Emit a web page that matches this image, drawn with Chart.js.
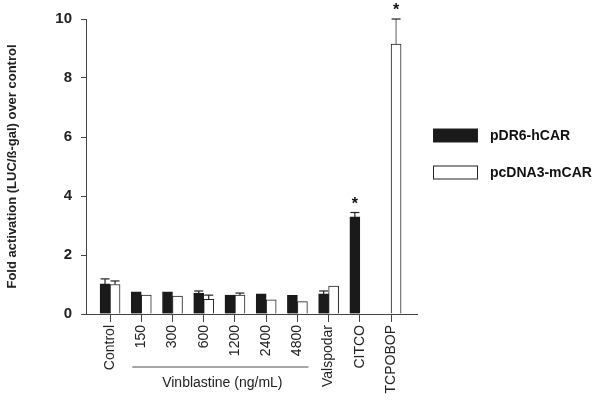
<!DOCTYPE html>
<html>
<head>
<meta charset="utf-8">
<script src="https://cdn.jsdelivr.net/npm/chart.js@4"></script>
<style>
  body { margin: 0; background: #fff; }
  canvas { display: block; }
</style>
</head>
<body>
<canvas id="myChart" width="600" height="403"></canvas>
<script>
// datos
const categories = ['Control', '150', '300', '600', '1200', '2400', '4800', 'Valspodar', 'CITCO', 'TCPOBOP'];
const hcar = [1.02, 0.75, 0.75, 0.71, 0.64, 0.68, 0.63, 0.68, 3.29, null];
const hcarErr = [0.17, 0, 0, 0.07, 0, 0, 0, 0.1, 0.15, null];
const mcar = [1.0, 0.64, 0.61, 0.5, 0.64, 0.48, 0.42, 0.95, null, 9.15];
const mcarErr = [0.12, 0, 0, 0.14, 0.07, 0, 0, 0, null, 0.85];
const hcarStar = [false, false, false, false, false, false, false, false, true, false];
const mcarStar = [false, false, false, false, false, false, false, false, false, true];
const yTicks = [0, 2, 4, 6, 8, 10];
const groupLabel = 'Vinblastine (ng/mL)';
const groupFrom = 1, groupTo = 6;

const FONT = 'Arial, "Liberation Sans", Helvetica, sans-serif';

const toPoints = arr => arr.map((v, i) => ({ x: i, y: v }));

// barras de error (solo hacia arriba), asteriscos, leyenda y etiqueta de grupo
const extras = {
  id: 'extras',
  afterDatasetsDraw(chart) {
    const ctx = chart.ctx;
    const x = chart.scales.x, y = chart.scales.y;
    const errs = [hcarErr, mcarErr];
    const stars = [hcarStar, mcarStar];
    chart.data.datasets.forEach((ds, d) => {
      const meta = chart.getDatasetMeta(d);
      meta.data.forEach((bar, i) => {
        const v = ds.data[i].y;
        if (v === null) return;
        const top = y.getPixelForValue(v + (errs[d][i] || 0));
        if (errs[d][i]) {
          ctx.save();
          ctx.strokeStyle = d === 1 && v > 5 ? '#777' : '#222';
          ctx.lineWidth = 1.2;
          ctx.beginPath();
          ctx.moveTo(bar.x, bar.y);
          ctx.lineTo(bar.x, top);
          ctx.stroke();
          ctx.strokeStyle = '#222';
          ctx.beginPath();
          ctx.moveTo(bar.x - 4.5, top);
          ctx.lineTo(bar.x + 4.5, top);
          ctx.stroke();
          ctx.restore();
        }
        if (stars[d][i]) {
          ctx.save();
          ctx.fillStyle = '#111';
          ctx.font = 'bold 16px ' + FONT;
          ctx.textAlign = 'center';
          ctx.textBaseline = 'middle';
          ctx.fillText('*', bar.x, top - 8);
          ctx.restore();
        }
      });
    });

    // etiqueta Vinblastine
    const x1 = x.getPixelForValue(groupFrom) - 9;
    const x2 = x.getPixelForValue(groupTo) + 11;
    ctx.save();
    ctx.strokeStyle = '#888';
    ctx.lineWidth = 1.5;
    ctx.beginPath();
    ctx.moveTo(x1, 367);
    ctx.lineTo(x2, 367);
    ctx.stroke();
    ctx.fillStyle = '#222';
    ctx.font = '14px ' + FONT;
    ctx.textAlign = 'center';
    ctx.textBaseline = 'middle';
    ctx.fillText(groupLabel, (x1 + x2) / 2 + 2, 383);
    ctx.restore();

    // leyenda
    ctx.save();
    chart.data.datasets.forEach((ds, d) => {
      const ty = 136 + d * 37;
      ctx.fillStyle = ds.backgroundColor;
      ctx.strokeStyle = '#222';
      ctx.lineWidth = 1;
      ctx.fillRect(433.5, ty - 7, 44, 13);
      ctx.strokeRect(433.5, ty - 7, 44, 13);
      ctx.fillStyle = '#111';
      ctx.font = 'bold 14px ' + FONT;
      ctx.textAlign = 'left';
      ctx.textBaseline = 'middle';
      ctx.fillText(ds.label, 490, ty);
    });
    ctx.restore();
  }
};

const ctx = document.getElementById('myChart').getContext('2d');
const myChart = new Chart(ctx, {
  type: 'bar',
  data: {
    datasets: [{
      label: 'pDR6-hCAR',
      data: toPoints(hcar),
      backgroundColor: '#1a1a1a',
      borderColor: '#1a1a1a',
      borderWidth: 1
    }, {
      label: 'pcDNA3-mCAR',
      data: toPoints(mcar),
      backgroundColor: '#ffffff',
      borderColor: '#222222',
      borderWidth: 1
    }]
  },
  options: {
    responsive: false,
    animation: false,
    barThickness: 10,
    layout: { padding: { left: 0, top: 19, right: 183, bottom: 0 } },
    plugins: {
      legend: { display: false },
      tooltip: { enabled: false }
    },
    scales: {
      x: {
        type: 'linear',
        offset: false,
        bounds: 'data',
        min: -0.77,
        max: 9.83,
        grid: { offset: false, drawOnChartArea: false, drawTicks: true, tickLength: 8, color: '#444' },
        border: { color: '#444', width: 1 },
        afterBuildTicks: s => { s.ticks = categories.map((c, i) => ({ value: i })); },
        ticks: {
          autoSkip: false,
          minRotation: 90,
          maxRotation: 90,
          padding: 3,
          color: '#222',
          font: { family: FONT, size: 14 },
          callback: (v, i) => categories[i]
        },
        afterFit: s => { s.height = 89; }
      },
      y: {
        min: 0,
        max: 10,
        grid: { drawOnChartArea: false, drawTicks: true, tickLength: 5, color: '#444' },
        border: { color: '#444', width: 1 },
        afterBuildTicks: s => { s.ticks = yTicks.map(v => ({ value: v })); },
        ticks: {
          padding: 9,
          color: '#222',
          font: { family: FONT, size: 15, weight: 'bold' }
        },
        title: {
          display: true,
          text: 'Fold activation (LUC/ß-gal) over control',
          color: '#222',
          font: { family: FONT, size: 13, weight: 'bold' },
          padding: { top: 5, bottom: 0 }
        },
        afterFit: s => { s.width = 86; }
      }
    }
  },
  plugins: [extras]
});
</script>
</body>
</html>
